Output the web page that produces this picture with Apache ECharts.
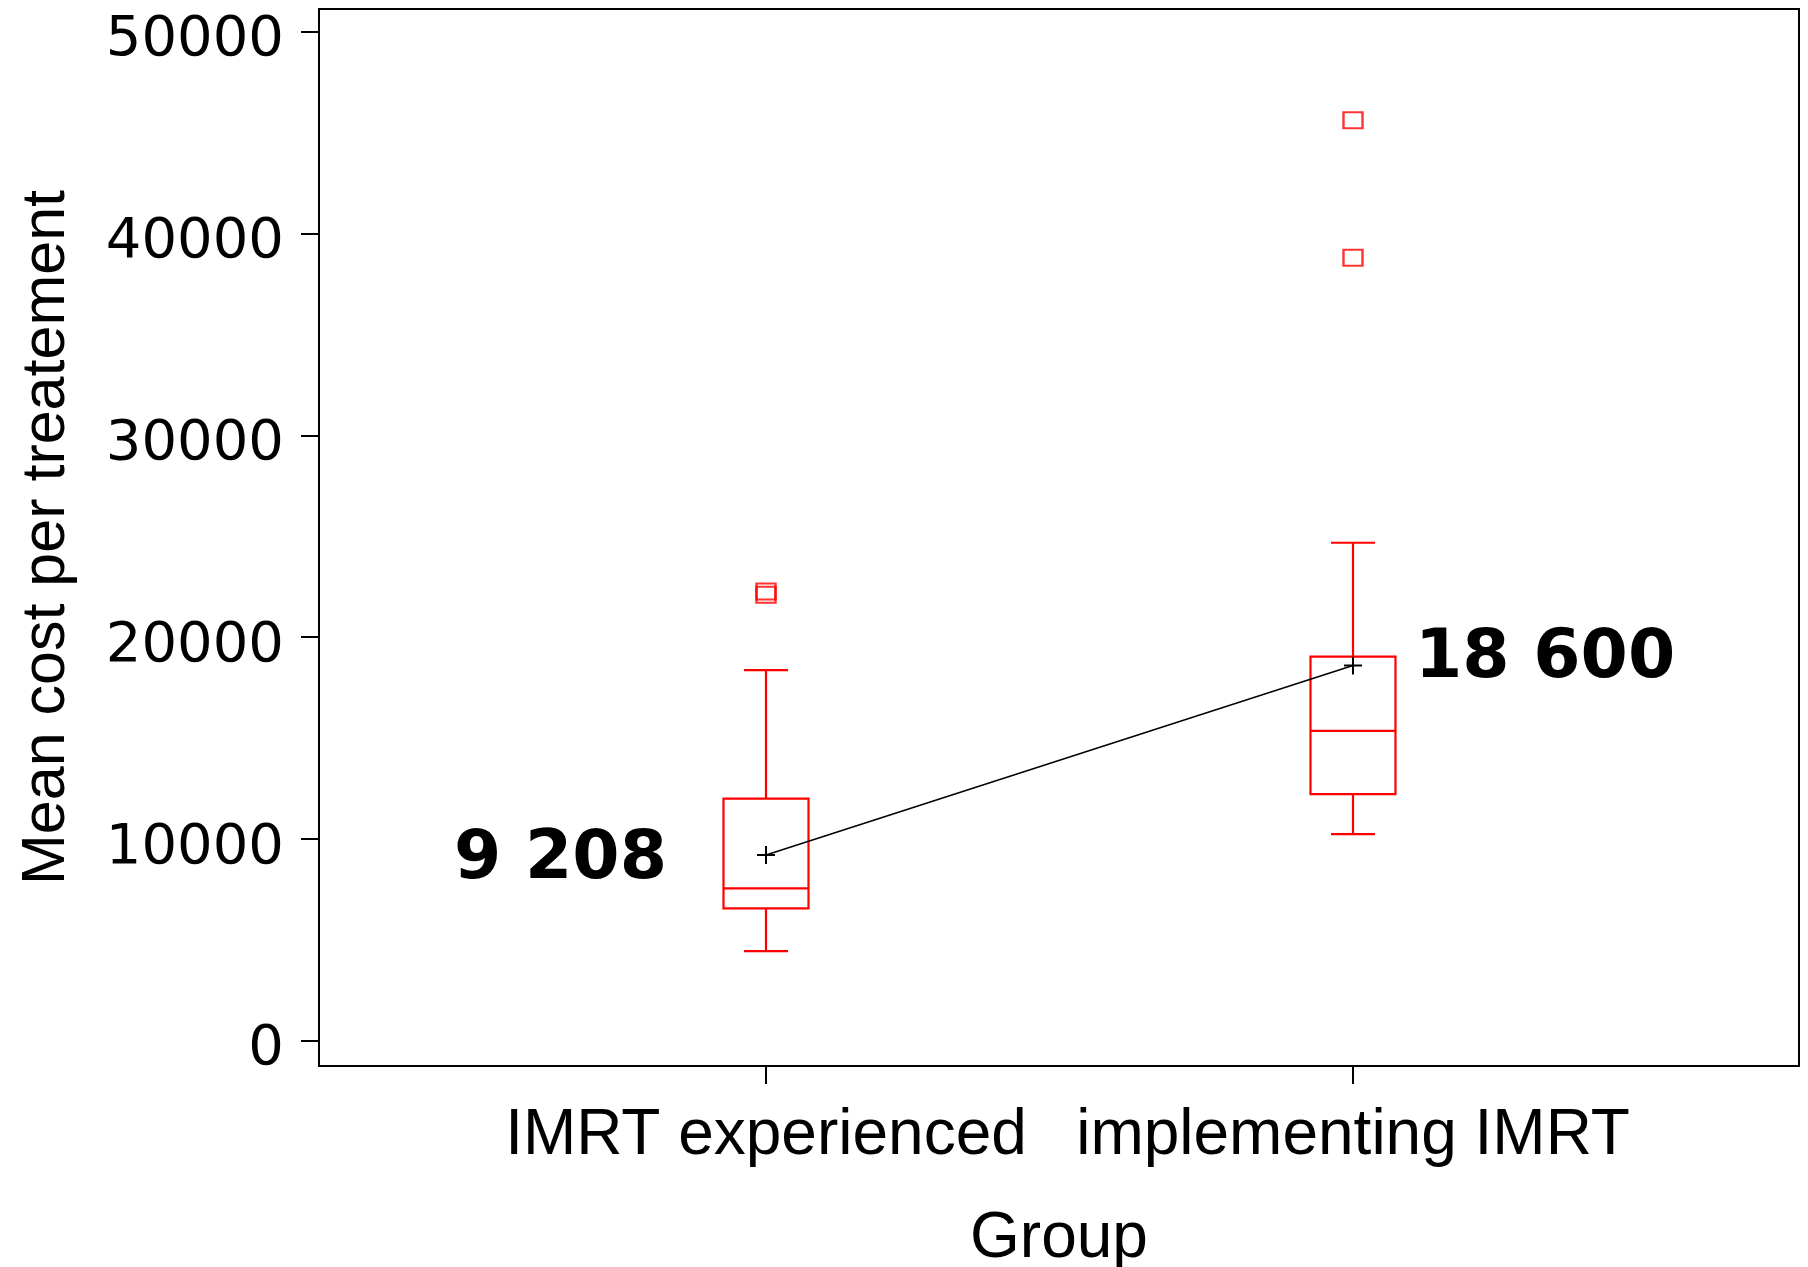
<!DOCTYPE html>
<html><head><meta charset="utf-8">
<script src="https://cdn.jsdelivr.net/npm/echarts@6/dist/echarts.min.js"></script>
<style>html,body{margin:0;padding:0;background:#fff}#c{width:1808px;height:1267px}</style>
</head><body><div id="c"></div>
<script>
const categories = ['IMRT experienced', 'implementing IMRT'];
const whiskerLow = [4440, 10240];
const q1 = [6560, 12220];
const median = [7550, 15360];
const q3 = [12000, 19040];
const whiskerHigh = [18370, 24680];
const means = [9208, 18600];
const meanLabels = ['9 208', '18 600'];
const outlierGroup = [0, 0, 1, 1];
const outlierValues = [22260, 22100, 45620, 38800];
const yTickValues = [0, 10000, 20000, 30000, 40000, 50000];
const xTickValues = [0, 1];
const yTitle = 'Mean cost per treatement';
const xTitle = 'Group';

const RED = '#ff0000';
const chart = echarts.init(document.getElementById('c'), null, {renderer: 'canvas'});

const boxData = categories.map((c, i) => [i, whiskerLow[i], q1[i], median[i], q3[i], whiskerHigh[i]]);

const option = {
  animation: false,
  backgroundColor: '#ffffff',
  grid: {left: 319, right: 9, top: 9, bottom: 201, outerBoundsMode: 'none', containLabel: false,
    show: true, borderColor: '#000', borderWidth: 2, backgroundColor: 'transparent'},
  xAxis: {
    type: 'value', min: -0.7615, max: 1.7598,
    splitLine: {show: false},
    axisLine: {show: true, onZero: false, lineStyle: {color: '#000', width: 2}},
    axisTick: {show: true, length: 18, lineStyle: {color: '#000', width: 2}, customValues: xTickValues},
    axisLabel: {customValues: xTickValues, formatter: v => categories[Math.round(v)] || '',
      fontFamily: 'Liberation Sans, Arial, sans-serif', fontSize: 64, color: '#000', margin: 38},
    name: xTitle, nameLocation: 'middle', nameGap: 141,
    nameTextStyle: {fontFamily: 'Liberation Sans, Arial, sans-serif', fontSize: 64, color: '#000'}
  },
  yAxis: {
    type: 'value', min: -1249, max: 51130,
    splitLine: {show: false},
    axisLine: {show: true, onZero: false, lineStyle: {color: '#000', width: 2}},
    axisTick: {show: true, length: 18, lineStyle: {color: '#000', width: 2}, customValues: yTickValues},
    axisLabel: {customValues: yTickValues, formatter: v => String(v),
      fontFamily: 'DejaVu Sans, sans-serif', fontSize: 56, color: '#000', margin: 35,
      verticalAlign: 'top', lineHeight: 18},
    name: yTitle, nameLocation: 'middle', nameGap: 241,
    nameTextStyle: {fontFamily: 'Liberation Sans, Arial, sans-serif', fontSize: 61, color: '#000'}
  },
  series: [
    {
      type: 'custom',
      data: boxData,
      encode: {x: 0, y: [1, 2, 3, 4, 5]},
      z: 2,
      renderItem: function (params, api) {
        const x = api.value(0);
        const pLow = api.coord([x, api.value(1)]);
        const pQ1 = api.coord([x, api.value(2)]);
        const pMed = api.coord([x, api.value(3)]);
        const pQ3 = api.coord([x, api.value(4)]);
        const pHigh = api.coord([x, api.value(5)]);
        const cx = pLow[0];
        const hb = 42.5, hc = 22;
        const st = {stroke: RED, lineWidth: 2.2, fill: null};
        return {type: 'group', children: [
          {type: 'rect', shape: {x: cx - hb, y: pQ3[1], width: 2 * hb, height: pQ1[1] - pQ3[1]}, style: {stroke: RED, lineWidth: 2.2, fill: null}},
          {type: 'line', shape: {x1: cx - hb, y1: pMed[1], x2: cx + hb, y2: pMed[1]}, style: st},
          {type: 'line', shape: {x1: cx, y1: pQ3[1], x2: cx, y2: pHigh[1]}, style: st},
          {type: 'line', shape: {x1: cx, y1: pQ1[1], x2: cx, y2: pLow[1]}, style: st},
          {type: 'line', shape: {x1: cx - hc, y1: pHigh[1], x2: cx + hc, y2: pHigh[1]}, style: st},
          {type: 'line', shape: {x1: cx - hc, y1: pLow[1], x2: cx + hc, y2: pLow[1]}, style: st}
        ]};
      }
    },
    {
      type: 'scatter',
      data: outlierValues.map((v, i) => [outlierGroup[i], v]),
      symbol: 'rect', symbolSize: [19, 16],
      itemStyle: {color: 'rgba(0,0,0,0)', borderColor: RED, borderWidth: 2.2},
      z: 3
    },
    {
      type: 'line',
      data: means.map((v, i) => ({
        value: [i, v],
        label: i === 0
          ? {show: true, position: 'left', distance: 89, offset: [0, 5], formatter: meanLabels[i]}
          : {show: true, position: 'right', distance: 52, offset: [0, -6], formatter: meanLabels[i]}
      })),
      lineStyle: {color: '#000', width: 1.5},
      symbol: 'path://M0,5 L10,5 M5,0 L5,10', symbolSize: 18,
      itemStyle: {color: '#000', borderColor: '#000', borderWidth: 2},
      label: {fontFamily: 'DejaVu Sans, sans-serif', fontWeight: 'bold', fontSize: 68, color: '#000'},
      z: 4
    }
  ]
};
chart.setOption(option);
</script></body></html>
